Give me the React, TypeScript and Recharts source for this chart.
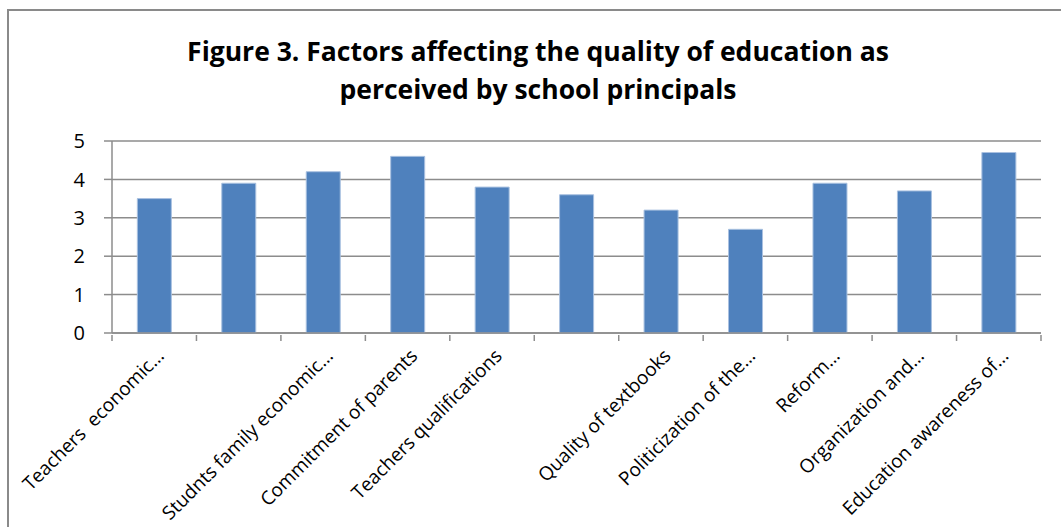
import { BarChart, Bar, XAxis, YAxis, CartesianGrid } from "recharts";

const labels = [
  "Teachers  economic…",
  "",
  "Studnts family economic…",
  "Commitment of parents",
  "Teachers qualifications",
  "",
  "Quality of textbooks",
  "Politicization of the…",
  "Reform…",
  "Organization and…",
  "Education awareness of…",
];

const scores = [3.5, 3.9, 4.2, 4.6, 3.8, 3.6, 3.2, 2.7, 3.9, 3.7, 4.7];

const yTicks = [0, 1, 2, 3, 4, 5];

const data = labels.map((label, i) => ({ label, score: scores[i] }));

const FONT = "'Open Sans', 'DejaVu Sans', sans-serif";
const GRID = "#8c8c8c";

const CategoryTick = (props: any) => {
  const { x, y, payload, index } = props;
  const half = payload.offset ?? 42;
  const tx = x + 11;
  const ty = y + 22;
  return (
    <g>
      <line x1={x - half} y1={y} x2={x - half} y2={y + 6} stroke={GRID} strokeWidth={1.5} />
      {index === labels.length - 1 && (
        <line x1={x + half} y1={y} x2={x + half} y2={y + 6} stroke={GRID} strokeWidth={1.5} />
      )}
      <text
        x={tx}
        y={ty}
        transform={`rotate(-45 ${tx} ${ty})`}
        textAnchor="end"
        fontSize={19}
        fontFamily={FONT}
        fill="#000"
        style={{ whiteSpace: "pre" }}
      >
        {payload.value}
      </text>
    </g>
  );
};

export default function App() {
  return (
    <div style={{ position: "absolute", left: 0, top: 0, width: 1061, height: 527, background: "#fff", overflow: "hidden" }}>
      <div
        style={{
          position: "absolute",
          left: 7,
          top: 9,
          width: 1054,
          height: 518,
          borderLeft: "2px solid #8a8a8a",
          borderTop: "2px solid #8a8a8a",
          boxSizing: "border-box",
        }}
      />
      <div
        style={{
          position: "absolute",
          left: 0,
          top: 32,
          width: 1076,
          textAlign: "center",
          fontFamily: FONT,
          fontWeight: 700,
          fontSize: 26.5,
          lineHeight: "38px",
          color: "#000",
        }}
      >
        Figure 3. Factors affecting the quality of education as
        <br />
        perceived by school principals
      </div>
      <div style={{ position: "absolute", left: 0, top: 0 }}>
        <BarChart
          width={1061}
          height={527}
          data={data}
          margin={{ top: 141, right: 20, bottom: 0, left: 52 }}
          barCategoryGap="30%"
        >
          <CartesianGrid vertical={false} stroke={GRID} strokeWidth={1.5} />
          <XAxis
            dataKey="label"
            interval={0}
            height={194}
            tickSize={0}
            tickLine={false}
            axisLine={{ stroke: GRID, strokeWidth: 1.5 }}
            tick={<CategoryTick />}
          />
          <YAxis
            domain={[0, 5]}
            ticks={yTicks}
            width={60}
            tickSize={8}
            tickMargin={19}
            tickLine={{ stroke: GRID, strokeWidth: 1.5 }}
            axisLine={{ stroke: GRID, strokeWidth: 1.5 }}
            tick={{ fill: "#000", fontSize: 20, fontFamily: FONT }}
          />
          <Bar dataKey="score" fill="#4f81bd" stroke="#a9c1e0" strokeWidth={1} isAnimationActive={false} />
        </BarChart>
      </div>
    </div>
  );
}
